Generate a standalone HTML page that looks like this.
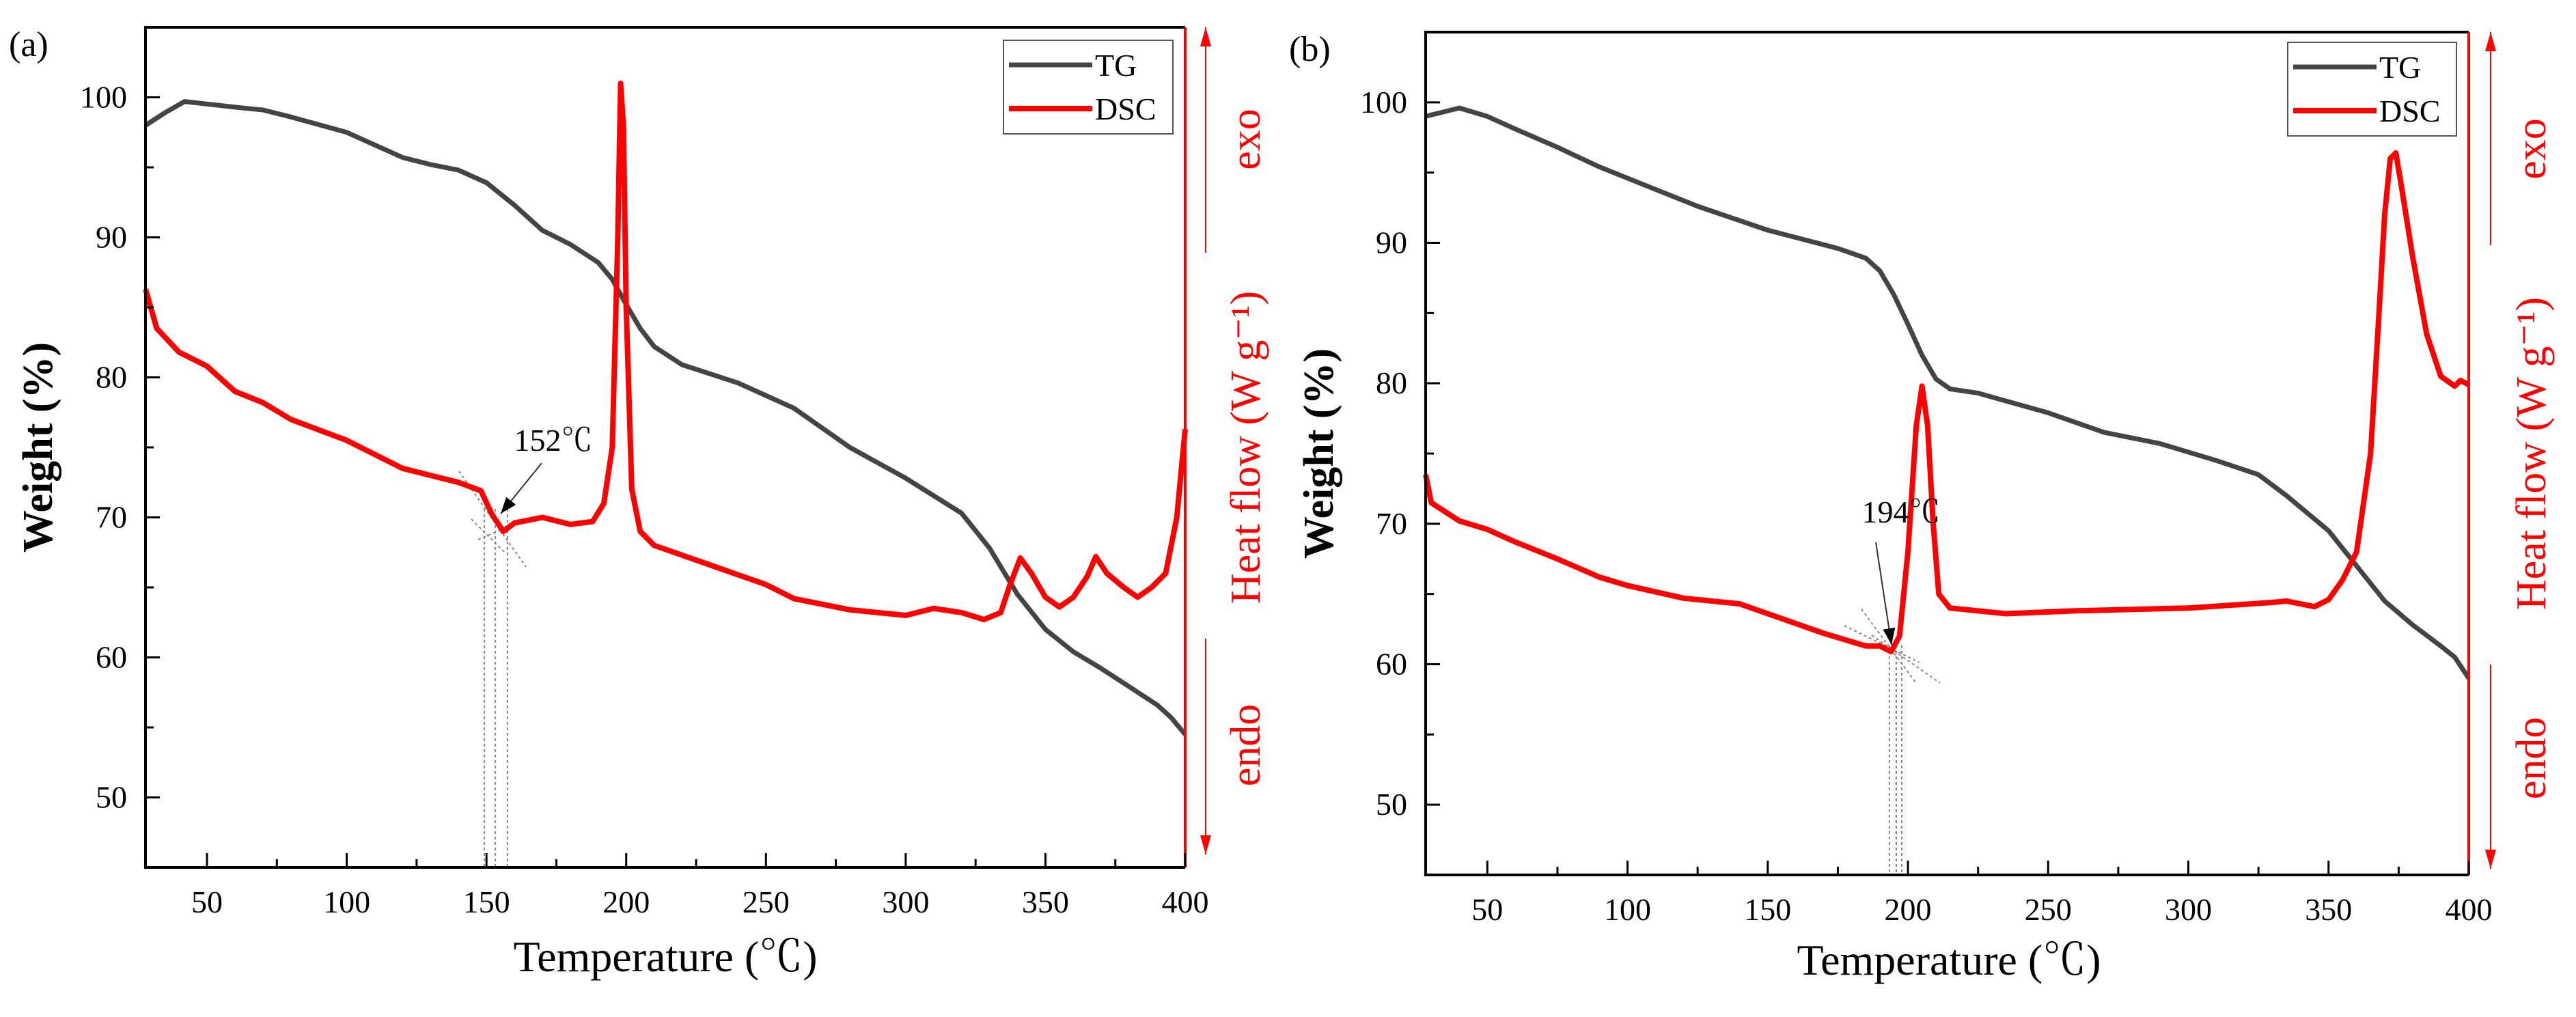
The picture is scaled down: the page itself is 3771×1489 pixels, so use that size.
<!DOCTYPE html>
<html><head><meta charset="utf-8"><style>
html,body{margin:0;padding:0;background:#fff;}
svg{display:block;font-family:"Liberation Serif","Noto Serif CJK SC",serif;}
</style></head><body>
<svg id="chart" width="3771" height="1489" viewBox="0 0 3771 1489" xmlns="http://www.w3.org/2000/svg"></svg>
<script>
const xTicks=[50,100,150,200,250,300,350,400];
const yTicks=[50,60,70,80,90,100];
const tgAx=[28,35,42,60,70,80,100,110,120,130,140,150,160,170,180,190,195,200,205,210,220,240,260,280,300,320,330,340,350,360,370,380,390,395,400];
const tgAy=[98,98.9,99.7,99.3,99.1,98.6,97.5,96.6,95.7,95.2,94.8,93.9,92.3,90.5,89.5,88.2,87,85.2,83.5,82.2,80.9,79.6,77.8,75,72.8,70.3,67.8,64.5,62,60.4,59.2,57.9,56.6,55.7,54.5];
const dscAx=[28,32,40,50,60,70,80,100,120,140,148,152,156,160,170,180,188,192,195,197,198,199,200,202,205,210,230,250,260,280,300,310,320,328,334,337,341,345,350,355,360,365,368,372,378,383,388,393,397,400];
const dscAy=[86.3,83.5,81.8,80.8,79,78.2,77,75.5,73.5,72.5,71.9,70.2,69,69.6,70,69.5,69.7,71,75,90,101,98,85,72,69,68,66.6,65.2,64.2,63.4,63,63.5,63.2,62.7,63.2,65,67.1,66,64.3,63.6,64.3,65.8,67.2,66,65,64.3,65,66,70,76.3];
const tgBx=[28,40,50,60,75,90,100,125,150,175,185,190,195,200,205,210,215,225,250,270,290,310,325,335,350,360,370,380,390,395,400];
const tgBy=[99,99.6,99,98.1,96.8,95.4,94.6,92.6,90.9,89.6,88.9,88,86.3,84.2,82,80.3,79.6,79.3,77.9,76.5,75.7,74.5,73.5,72,69.5,67,64.5,62.8,61.3,60.5,59];
const dscBx=[28,30,40,50,60,75,90,100,120,140,150,170,185,190,194,197,200,203,205,207,209,211,215,235,260,300,330,335,345,350,355,360,365,368,370,372,374,376,380,385,390,395,397,400];
const dscBy=[73.5,71.5,70.2,69.6,68.7,67.5,66.2,65.6,64.7,64.3,63.6,62.2,61.3,61.3,60.9,62,68,77,79.8,77,70,65,64,63.6,63.8,64,64.4,64.5,64.1,64.6,66,68,75,85,92,96,96.4,94,89,83.5,80.5,79.8,80.2,79.9];

const NS="http://www.w3.org/2000/svg";
const svg=document.getElementById('chart');
function mk(tag,attrs,parent,text){const e=document.createElementNS(NS,tag);for(const k in attrs)e.setAttribute(k,attrs[k]);if(text!==undefined)e.textContent=text;(parent||svg).appendChild(e);return e;}

const panels=[
 {id:'a',L:213,R:1735,T:40,B:1270,tgx:tgAx,tgy:tgAy,dx:dscAx,dy:dscAy,label:'(a)',ann:'152℃',annX:810,annY:660,arrow:[793,678,733,752],vl:[709,725,743],vTop:745,
  tang:[[672,690,770,830],[700,790,770,760],[690,760,740,810]],arrX:1765,segTop:[40,370],segBot:[935,1251],exoY:204,hfY:655,endoY:1091,textX:1830,
  leg:[1469,59,248,137],xt:[974,1422],yt:[62,655]},
 {id:'b',L:2087,R:3614,T:47,B:1281,tgx:tgBx,tgy:tgBy,dx:dscBx,dy:dscBy,label:'(b)',ann:'194℃',annX:2783,annY:765,arrow:[2746,794,2769,944],vl:[2766,2776,2784],vTop:945,
  tang:[[2700,916,2810,970],[2725,892,2805,1000],[2740,930,2840,1000]],arrX:3646,segTop:[47,359],segBot:[973,1272],exoY:218,hfY:664,endoY:1110,textX:3712,
  leg:[3349,62,247,137],xt:[2853,1427],yt:[1937,664]}
];

panels.forEach(p=>{
 const g=mk('g',{});
 
 
 const sx=v=>p.L+(v-28)/(400-28)*(p.R-p.L);
 const sy=v=>p.B-(v-45)/(105-45)*(p.B-p.T);
 p.vl.forEach(x=>{const l=mk('line',{x1:x,y1:p.vTop,x2:x,y2:p.B,stroke:'#888','stroke-width':2,'stroke-dasharray':'4,4'},g);
  });
 p.tang.forEach(t=>{const l=mk('line',{x1:t[0],y1:t[1],x2:t[2],y2:t[3],stroke:'#888','stroke-width':2,'stroke-dasharray':'4,4'},g);
  });
 const path=(xs,ys)=>xs.map((x,i)=>(i?'L':'M')+sx(x).toFixed(1)+','+sy(ys[i]).toFixed(1)).join('');
 const tg=mk('path',{d:path(p.tgx,p.tgy),fill:'none',stroke:'#444','stroke-width':7,'stroke-linejoin':'round'},g);
 
 const dsc=mk('path',{d:path(p.dx,p.dy),fill:'none',stroke:'#f00','stroke-width':8,'stroke-linejoin':'round'},g);
 
 const ax=mk('path',{d:`M${p.R},${p.T}H${p.L}V${p.B}H${p.R}`,fill:'none',stroke:'#000','stroke-width':4},g);
 
 const ra=mk('line',{x1:p.R,y1:p.T,x2:p.R,y2:p.B,stroke:'#f00','stroke-width':4},g);
 
 for(let v=50;v<=400;v+=25){const x=sx(v);const maj=v%50===0;
  const t=mk('line',{x1:x,y1:p.B,x2:x,y2:p.B-(maj?21:12),stroke:'#000','stroke-width':3},g);
  }
 xTicks.forEach(v=>{const t=mk('text',{x:sx(v),y:p.B+66,'font-size':46,'text-anchor':'middle'},g,String(v));
  });
 for(let v=50;v<=100;v+=5){const y=sy(v);const maj=v%10===0;
  const t=mk('line',{x1:p.L,y1:y,x2:p.L+(maj?21:12),y2:y,stroke:'#000','stroke-width':3},g);
  }
 yTicks.forEach(v=>{const t=mk('text',{x:p.L-27,y:sy(v)+15,'font-size':46,'text-anchor':'end'},g,String(v));
  });
 let t=mk('text',{x:p.xt[0],y:p.xt[1],'font-size':64,'text-anchor':'middle'},g,'Temperature (℃)');
 
 t=mk('text',{x:p.yt[0],y:p.yt[1],'font-size':62,'font-weight':'bold','text-anchor':'middle',transform:`rotate(-90 ${p.yt[0]} ${p.yt[1]})`,'dominant-baseline':'middle'},g,'Weight (%)');
 
 t=mk('text',{x:p.L-200,y:p.T+42,'font-size':52},g,p.label);
 
 [[p.segTop[0],p.segTop[1],'up'],[p.segBot[0],p.segBot[1],'down']].forEach(s=>{
  const l=mk('line',{x1:p.arrX,y1:s[0],x2:p.arrX,y2:s[1],stroke:'#f00','stroke-width':2},g);
  
  const ay=s[2]==='up'?s[0]:s[1];const d=s[2]==='up'?1:-1;
  const h=mk('path',{d:`M${p.arrX},${ay}L${p.arrX-8},${ay+d*28}L${p.arrX+8},${ay+d*28}Z`,fill:'#f00'},g);
  });
 [['exo',p.exoY,'exo-label'],['Heat flow (W g⁻¹)',p.hfY,'right-axis-title'],['endo',p.endoY,'endo-label']].forEach(a=>{
  const e=mk('text',{x:p.textX,y:a[1],'font-size':62,fill:'#f00','text-anchor':'middle','dominant-baseline':'middle',transform:`rotate(-90 ${p.textX} ${a[1]})`},g,a[0]);
  });
 t=mk('text',{x:p.annX,y:p.annY,'font-size':46,'text-anchor':'middle'},g,p.ann);
 
 const [x1,y1,x2,y2]=p.arrow;
 const al=mk('line',{x1,y1,x2,y2,stroke:'#333','stroke-width':2},g);
 
 const ang=Math.atan2(y2-y1,x2-x1);const hl=24,hw=9;
 const bx=x2-hl*Math.cos(ang),by=y2-hl*Math.sin(ang);
 const ah=mk('path',{d:`M${x2},${y2}L${bx-hw*Math.sin(ang)},${by+hw*Math.cos(ang)}L${bx+hw*Math.sin(ang)},${by-hw*Math.cos(ang)}Z`,fill:'#000'},g);
 
 const [lx,ly,lw,lh]=p.leg;
 const lg=mk('g',{},g);
 
 mk('rect',{x:lx,y:ly,width:lw,height:lh,fill:'#fff',stroke:'#555','stroke-width':2},lg);
 [['TG','#444',36],['DSC','#f00',100]].forEach(e=>{
  const eg=mk('g',{},lg);
  
  mk('line',{x1:lx+8,y1:ly+e[2],x2:lx+130,y2:ly+e[2],stroke:e[1],'stroke-width':e[0]==='TG'?7:8},eg);
  mk('text',{x:lx+134,y:ly+e[2]+16,'font-size':46},eg,e[0]);});
});
</script>
</body></html>
